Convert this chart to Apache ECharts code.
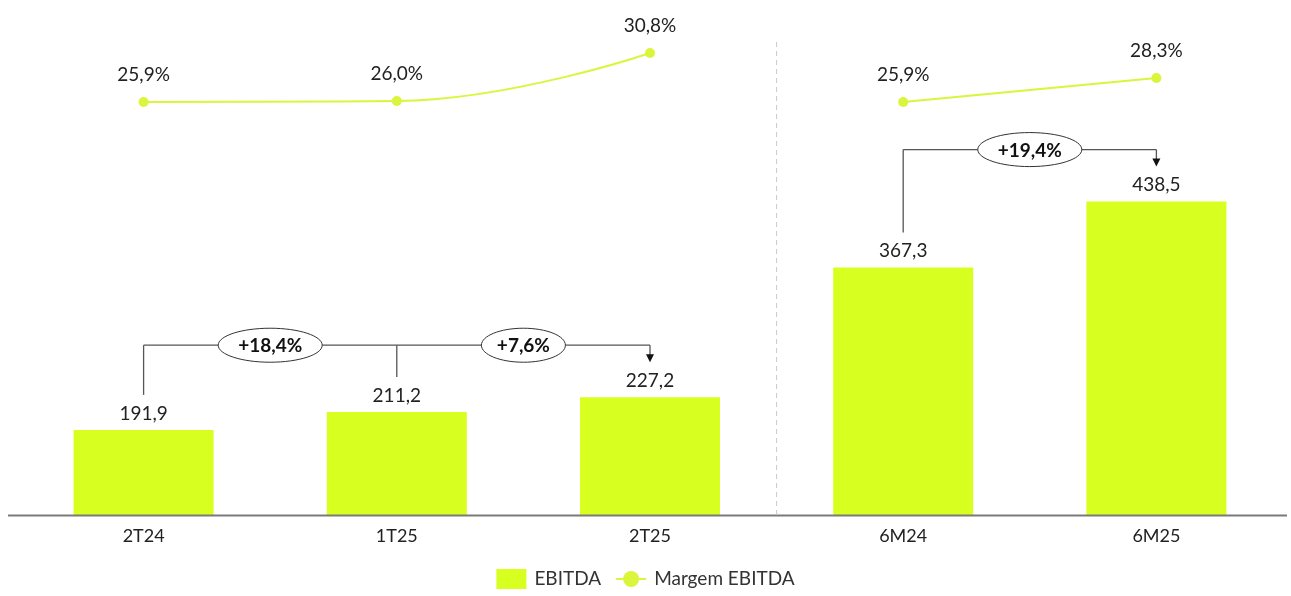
<!DOCTYPE html>
<html>
<head>
<meta charset="utf-8">
<script src="https://cdn.jsdelivr.net/npm/echarts@6/dist/echarts.min.js"></script>
<style>
  html, body { margin: 0; padding: 0; background: #fff; }
  #chart { width: 1291px; height: 596px; }
</style>
</head>
<body>
<div id="chart"></div>
<script>
// Periods and values (R$ milhões / %)
const categories = ['2T24', '1T25', '2T25', '6M24', '6M25'];
const ebitda = [191.9, 211.2, 227.2, 367.3, 438.5];
const margin = [25.9, 26.0, 30.8, 25.9, 28.3];

// Quarterly and half-year blocks (indices into categories)
const periodGroups = [[0, 1, 2], [3, 4]];
// Growth between consecutive periods: [fromIndex, toIndex, label]
const growthSteps = [[0, 1, '+18,4%'], [1, 2, '+7,6%'], [3, 4, '+19,4%']];
const growthBubbleWidths = [104, 84, 104];

const FONT = 'Lato';
const BAR_COLOR = '#D7FF1F';
const LINE_COLOR = '#DAF53C';

const fmt = (v, d) => v.toFixed(d).replace('.', ',');

function marginSegment(group) {
  return margin.map((v, i) => (group.indexOf(i) >= 0 ? v : '-'));
}

const chart = echarts.init(document.getElementById('chart'), null, { renderer: 'canvas' });

const option = {
  animation: false,
  backgroundColor: '#fff',
  grid: { left: 17, right: 8, top: 15, bottom: 81, containLabel: false },
  legend: {
    bottom: 2,
    left: 'center',
    itemWidth: 30,
    itemHeight: 20,
    itemGap: 14,
    textStyle: { fontFamily: FONT, fontSize: 19, color: '#333', padding: [0, 0, 0, 3] },
    data: [{ name: 'EBITDA', icon: 'rect' }, { name: 'Margem EBITDA' }]
  },
  xAxis: {
    type: 'category',
    data: categories,
    axisLine: { show: false },
    axisTick: { show: false },
    axisLabel: { margin: 12, fontFamily: FONT, fontSize: 18, color: '#222' }
  },
  yAxis: [
    { type: 'value', min: 100, max: 640, show: false, splitLine: { show: false } },
    { type: 'value', min: -15.4, max: 34.6, show: false, splitLine: { show: false } }
  ],
  series: [
    {
      name: 'EBITDA',
      type: 'bar',
      data: ebitda,
      barWidth: 140,
      itemStyle: { color: BAR_COLOR },
      label: {
        show: true,
        position: 'top',
        distance: 7,
        fontFamily: FONT,
        fontSize: 19,
        color: '#222',
        formatter: p => fmt(p.value, 1)
      }
    }
  ].concat(periodGroups.map(g => ({
    name: 'Margem EBITDA',
    type: 'line',
    yAxisIndex: 1,
    data: marginSegment(g),
    smooth: 0.45,
    symbol: 'circle',
    symbolSize: 10,
    lineStyle: { color: LINE_COLOR, width: 2 },
    itemStyle: { color: LINE_COLOR },
    label: {
      show: true,
      position: 'top',
      distance: 13,
      fontFamily: FONT,
      fontSize: 19,
      color: '#222',
      formatter: p => fmt(p.value, 1) + '%'
    }
  })))
};

chart.setOption(option);

// Annotation layer: axis baseline, block separator and growth brackets
const xPx = i => chart.convertToPixel({ xAxisIndex: 0 }, i);
const barTop = i => chart.convertToPixel({ yAxisIndex: 0 }, ebitda[i]);
const baseY = chart.convertToPixel({ yAxisIndex: 0 }, 100);
const gfx = [];

gfx.push({
  type: 'line', z: 5,
  shape: { x1: 8, y1: baseY + 0.5, x2: 1287, y2: baseY + 0.5 },
  style: { stroke: '#7a7a7a', lineWidth: 2 }
});

const sepX = (xPx(2) + xPx(3)) / 2;
gfx.push({
  type: 'line', z: 5,
  shape: { x1: sepX, y1: 42, x2: sepX, y2: baseY },
  style: { stroke: '#c9c9c9', lineWidth: 1, lineDash: [5, 4] }
});

const STROKE = '#555';
periodGroups.forEach(g => {
  const levelY = Math.min.apply(null, g.map(barTop)) - 52;
  const first = g[0], last = g[g.length - 1];
  // horizontal connector
  gfx.push({
    type: 'line', z: 10,
    shape: { x1: xPx(first), y1: levelY, x2: xPx(last), y2: levelY },
    style: { stroke: STROKE, lineWidth: 1.3 }
  });
  g.forEach((i, k) => {
    const endY = barTop(i) - 35;
    const isLast = k === g.length - 1;
    gfx.push({
      type: 'line', z: 10,
      shape: { x1: xPx(i), y1: levelY, x2: xPx(i), y2: isLast ? endY - 7 : endY },
      style: { stroke: STROKE, lineWidth: 1.3 }
    });
    if (isLast) {
      gfx.push({
        type: 'polygon', z: 10,
        shape: { points: [[xPx(i) - 4, endY - 8], [xPx(i) + 4, endY - 8], [xPx(i), endY]] },
        style: { fill: '#111' }
      });
    }
  });
});

growthSteps.forEach((s, n) => {
  const grp = periodGroups.find(g => g.indexOf(s[0]) >= 0);
  const levelY = Math.min.apply(null, grp.map(barTop)) - 52;
  const cx = (xPx(s[0]) + xPx(s[1])) / 2;
  gfx.push({
    type: 'ellipse', z: 11,
    shape: { cx: cx, cy: levelY, rx: growthBubbleWidths[n] / 2, ry: 17 },
    style: { fill: '#fff', stroke: '#333', lineWidth: 1 }
  });
  gfx.push({
    type: 'text', z: 12,
    style: {
      text: s[2], x: cx, y: levelY + 1,
      align: 'center', verticalAlign: 'middle',
      font: 'bold 19px ' + FONT, fill: '#111'
    }
  });
});

chart.setOption({ graphic: gfx });
</script>
</body>
</html>
